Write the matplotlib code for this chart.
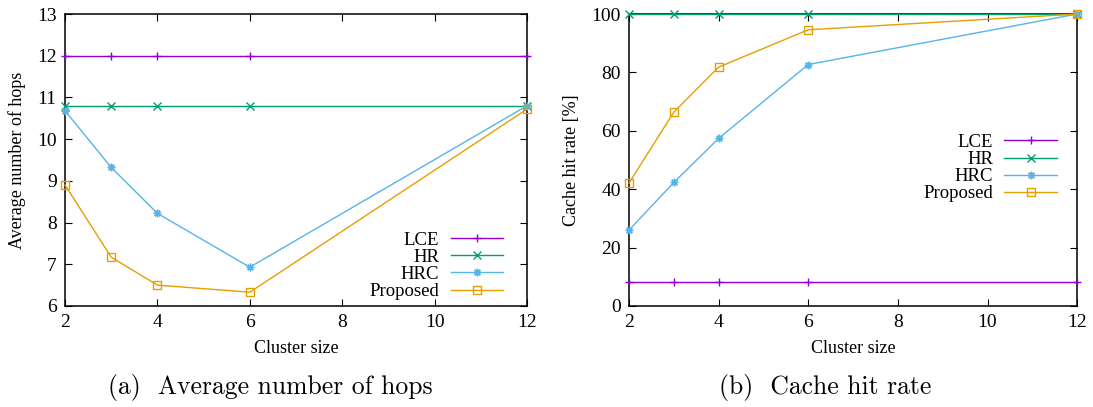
import matplotlib.pyplot as plt

cluster = [2, 3, 4, 6, 12]

hops_lce = [12.0, 12.0, 12.0, 12.0, 12.0]
hops_hr = [10.8, 10.8, 10.8, 10.8, 10.8]
hops_hrc = [10.68, 9.32, 8.22, 6.93, 10.8]
hops_prop = [8.9, 7.17, 6.5, 6.33, 10.72]

hit_lce = [8.3, 8.3, 8.3, 8.3, 8.3]
hit_hr = [100, 100, 100, 100, 100]
hit_hrc = [26.0, 42.3, 57.4, 82.7, 100]
hit_prop = [42.1, 66.4, 81.8, 94.6, 100]

labels = ["LCE", "HR", "HRC", "Proposed"]
colors = ["#9400d3", "#009e73", "#56b4e9", "#e69f00"]
markers = ["+", "x", (8, 2, 0), "s"]

plt.rcParams["font.family"] = ["Liberation Serif", "DejaVu Serif"]
fig = plt.figure(figsize=(10.93, 4.07), dpi=100)

ax1 = fig.add_axes([0.0595, 0.2482, 0.4227, 0.7174])
ax2 = fig.add_axes([0.5755, 0.2482, 0.4100, 0.7174])


def draw(ax, series, ylim, yticks, ylabel, anchor):
    for vals, lab, c, m in zip(series, labels, colors, markers):
        ax.plot(cluster, vals, color=c, marker=m, ms=5.5,
                mfc="none" if m == "s" else c, mew=1.0, lw=1.0,
                label=lab, clip_on=False, zorder=3)
    ax.set_xlim(2, 12)
    ax.set_ylim(*ylim)
    ax.set_xticks([2, 4, 6, 8, 10, 12])
    ax.set_yticks(yticks)
    ax.tick_params(direction="in", top=True, right=True, labelsize=14,
                   length=5, width=0.8, pad=6)
    for s in ax.spines.values():
        s.set_linewidth(1.1)
    ax.set_xlabel("Cluster size", fontsize=13, labelpad=6)
    ax.set_ylabel(ylabel, fontsize=13, labelpad=8)
    ax.legend(loc="lower right", bbox_to_anchor=anchor, frameon=False,
              markerfirst=False, fontsize=13.5, handlelength=2.8,
              handletextpad=0.6, labelspacing=0.0, borderpad=0,
              borderaxespad=0)


draw(ax1, [hops_lce, hops_hr, hops_hrc, hops_prop], (6, 13), range(6, 14),
     "Average number of hops", (0.948, 0.02))
draw(ax2, [hit_lce, hit_hr, hit_hrc, hit_prop], (0, 100), range(0, 101, 20),
     "Cache hit rate [%]", (0.955, 0.355))

fig.text(0.247, 0.047, "(a)  Average number of hops", family="cmr10",
         fontsize=18.5, ha="center", va="center")
fig.text(0.755, 0.047, "(b)  Cache hit rate", family="cmr10",
         fontsize=18.5, ha="center", va="center")

fig.savefig("out.png", dpi=100)
